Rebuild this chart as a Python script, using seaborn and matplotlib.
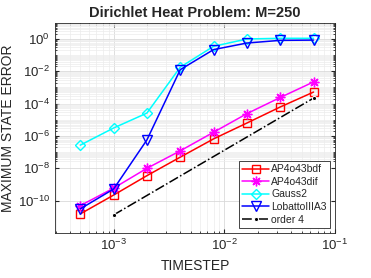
import numpy as np
import pandas as pd
import matplotlib
matplotlib.use("Agg")
import matplotlib.pyplot as plt
import matplotlib.ticker as mticker
import seaborn as sns

# -----------------------------------
# DATA
# -----------------------------------

timestep = [0.0005, 0.001, 0.002, 0.004, 0.008, 0.016, 0.032, 0.064]

err_bdf = [1.5e-11, 2.2e-10, 3.5e-9, 4.9e-8, 6.6e-7, 6.3e-6, 6.2e-5, 5.2e-4]
err_dif = [4.9e-11, 5.9e-10, 1.0e-8, 1.2e-7, 1.7e-6, 2.4e-5, 2.4e-4, 2.2e-3]
err_gauss = [2.7e-7, 3.1e-6, 2.6e-5, 1.8e-2, 0.35, 1.0, 1.1, 1.1]
err_lobatto = [3.1e-11, 5.2e-10, 5.7e-7, 1.26e-2, 0.22, 0.56, 0.82, 0.85]

order_x = [0.001, 0.064]
order_y = [1.3e-11, 2.2e-4]

series_names = ["AP4o43bdf", "AP4o43dif", "Gauss2", "LobattoIIIA3"]
series_vals = [err_bdf, err_dif, err_gauss, err_lobatto]
series_colors = ["#ff0000", "#ff00ff", "#00ffff", "#0000ff"]
series_markers = ["s", (8, 2, 0), "D", "v"]
series_msize = [5.5, 7, 5.5, 7]

# -----------------------------------
# PLOT
# -----------------------------------

sns.set_style("ticks")
plt.rcParams["font.family"] = ["Liberation Sans", "DejaVu Sans"]

fig = plt.figure(figsize=(3.71, 2.78), dpi=100)
ax = fig.add_axes([0.148, 0.162, 0.755, 0.756])

for name, vals, col, mk, ms in zip(series_names, series_vals,
                                   series_colors, series_markers, series_msize):
    sns.lineplot(
        x=timestep,
        y=vals,
        ax=ax,
        color=col,
        marker=mk,
        markersize=ms,
        markerfacecolor="none",
        markeredgecolor=col,
        markeredgewidth=1.0,
        linewidth=1.1,
        label=name,
    )

sns.lineplot(
    x=order_x,
    y=order_y,
    ax=ax,
    color="black",
    marker="o",
    markersize=3,
    linestyle="-.",
    linewidth=1.1,
    label="order 4",
)

ax.set_xscale("log")
ax.set_yscale("log")
ax.set_xlim(10 ** -3.53, 1e-1)
ax.set_ylim(1e-12, 1e1)

ax.xaxis.set_major_locator(mticker.FixedLocator([1e-3, 1e-2, 1e-1]))
ax.yaxis.set_major_locator(mticker.FixedLocator([1e-10, 1e-8, 1e-6, 1e-4, 1e-2, 1e0]))
ax.xaxis.set_major_formatter(mticker.LogFormatterMathtext())
ax.yaxis.set_major_formatter(mticker.LogFormatterMathtext())

x_minor = [m * 10.0 ** e for e in range(-4, -1) for m in range(2, 10)]
y_minor = [m * 10.0 ** e for e in range(-12, 1) for m in range(1, 10)]
y_minor = [v for v in y_minor if not any(np.isclose(v, t) for t in [1e-10, 1e-8, 1e-6, 1e-4, 1e-2, 1e0])]
ax.xaxis.set_minor_locator(mticker.FixedLocator(x_minor))
ax.yaxis.set_minor_locator(mticker.FixedLocator(y_minor))
ax.xaxis.set_minor_formatter(mticker.NullFormatter())
ax.yaxis.set_minor_formatter(mticker.NullFormatter())

ax.grid(True, which="major", color="#d9d9d9", linewidth=0.6)
ax.grid(True, which="minor", color="#ececec", linewidth=0.5)
ax.set_axisbelow(True)

for sp in ax.spines.values():
    sp.set_color("#262626")
    sp.set_linewidth(0.6)
ax.tick_params(axis="both", which="both", direction="in", top=True, right=True,
               labelsize=9.5, colors="#262626", length=3)
ax.tick_params(which="minor", length=1.5)

ax.set_title("Dirichlet Heat Problem: M=250", fontsize=10.5, fontweight="bold", pad=4)
ax.set_xlabel("TIMESTEP", fontsize=10, color="#262626")
ax.set_ylabel("MAXIMUM STATE ERROR", fontsize=10, color="#262626", labelpad=2)

leg = ax.legend(loc="lower right", fontsize=7.5, frameon=True, fancybox=False,
                handlelength=2.6, borderpad=0.3, labelspacing=0.25,
                handletextpad=0.2, borderaxespad=0.5)
leg.get_frame().set_edgecolor("#262626")
leg.get_frame().set_linewidth(0.6)
leg.get_frame().set_alpha(1)

plt.savefig("out.png", dpi=100)
